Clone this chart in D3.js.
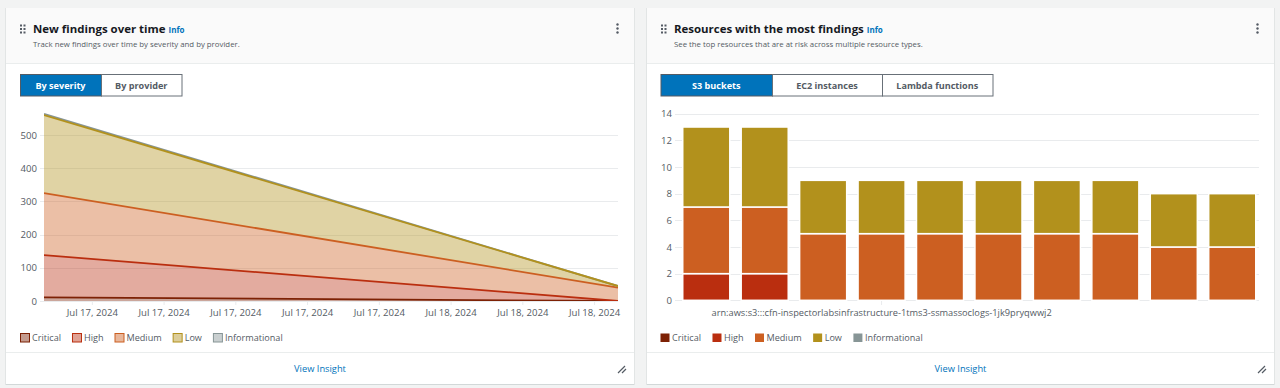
<!DOCTYPE html>
<html>
<head>
<meta charset="utf-8">
<script src="https://cdn.jsdelivr.net/npm/d3@7"></script>
<style>
  html, body { margin: 0; padding: 0; background: #f2f3f3; overflow: hidden; }
  svg { display: block; font-family: "Open Sans", sans-serif; }
  .domain { display: none; }
</style>
</head>
<body>
<svg id="page" width="1280" height="388"></svg>
<script>
'use strict';

// left chart
const severities = ['Critical', 'High', 'Medium', 'Low', 'Informational'];
const severityColors = ['#7d2105', '#ba2e0f', '#cc5f21', '#b2911c', '#879596'];
const findingDates = ['2024-07-17T07:00Z', '2024-07-18T07:00Z'];
const criticalFindings = [11, 0];
const highFindings = [127, 0];
const mediumFindings = [187, 40];
const lowFindings = [235, 5];
const informationalFindings = [4, 0];
const findingTicks = [0, 100, 200, 300, 400, 500];

// right chart
const resources = ['r1', 'r2', 'r3', 'r4', 'r5', 'r6', 'r7', 'r8', 'r9', 'r10'];
const labelledResource = 'r4';
const labelledResourceName = 'arn:aws:s3:::cfn-inspectorlabsinfrastructure-1tms3-ssmassoclogs-1jk9pryqwwj2';
const resCritical = [0, 0, 0, 0, 0, 0, 0, 0, 0, 0];
const resHigh = [2, 2, 0, 0, 0, 0, 0, 0, 0, 0];
const resMedium = [5, 5, 5, 5, 5, 5, 5, 5, 4, 4];
const resLow = [6, 6, 4, 4, 4, 4, 4, 4, 4, 4];
const resInformational = [0, 0, 0, 0, 0, 0, 0, 0, 0, 0];
const resourceTicks = [0, 2, 4, 6, 8, 10, 12, 14];

const svg = d3.select('#page');
const GRID = '#e9ebed';
const TICK_TEXT = '#545b64';

function addText(g, x, y, str, size, color, weight, anchor) {
    return g.append('text')
        .attr('x', x)
        .attr('y', y)
        .attr('font-size', size)
        .attr('fill', color)
        .attr('font-weight', weight || 400)
        .attr('text-anchor', anchor || 'start')
        .text(str);
}

function drawCard(opts) {
    const g = svg.append('g');
    const x = opts.x, w = opts.w;

    g.append('rect').attr('x', x - 0.5).attr('y', 8).attr('width', w + 1).attr('height', 377).attr('fill', '#aab7b8').attr('opacity', 0.45);
    g.append('rect').attr('x', x).attr('y', 8).attr('width', w).attr('height', 376).attr('fill', '#fff');
    g.append('rect').attr('x', x).attr('y', 8).attr('width', w).attr('height', 55).attr('fill', '#fafafa');
    g.append('line').attr('x1', x).attr('x2', x + w).attr('y1', 63.5).attr('y2', 63.5).attr('stroke', '#eaeded');
    g.append('line').attr('x1', x).attr('x2', x + w).attr('y1', 352.5).attr('y2', 352.5).attr('stroke', '#eaeded');

    // drag handle
    [0, 1].forEach(c => [0, 1, 2].forEach(r => {
        g.append('rect').attr('x', x + 14 + c * 3.5).attr('y', 24.5 + r * 3.5).attr('width', 2).attr('height', 2).attr('fill', '#545b64');
    }));

    const title = addText(g, x + 27, 33, opts.title, 11.45, '#16191f', 700);
    const tw = title.node().getComputedTextLength();
    addText(g, x + 27 + tw + 3, 33, 'Info', 8, '#0073bb', 700);
    addText(g, x + 27, 46.5, opts.subtitle, 7.8, '#545b64');

    // kebab menu
    [0, 1, 2].forEach(r => {
        g.append('circle').attr('cx', x + w - 16.5).attr('cy', 24.5 + r * 4).attr('r', 1.2).attr('fill', '#545b64');
    });

    // segmented control
    opts.buttons.forEach((b, i) => {
        const active = i === 0;
        g.append('rect')
            .attr('x', b[0] + 0.5).attr('y', 74.5)
            .attr('width', b[1] - b[0]).attr('height', 21.5)
            .attr('fill', active ? '#0073bb' : '#fff')
            .attr('stroke', active ? '#545b64' : '#687078');
        addText(g, (b[0] + b[1]) / 2, 88.5, b[2], 9.1, active ? '#fff' : '#545b64', 700, 'middle');
    });

    // footer
    addText(g, x + w / 2, 372, 'View Insight', 9.3, '#0073bb', 400, 'middle');
    g.append('path')
        .attr('d', `M${x + w - 16},${373} l7,-7 M${x + w - 12},${373} l4,-4`)
        .attr('stroke', '#545b64').attr('stroke-width', 1.2).attr('fill', 'none');
}

function drawLegend(x0, solid) {
    const g = svg.append('g');
    let x = x0;
    severities.forEach((s, i) => {
        g.append('rect')
            .attr('x', x + 0.5).attr('y', 333.5)
            .attr('width', 9).attr('height', 8.5)
            .attr('fill', severityColors[i])
            .attr('fill-opacity', solid ? 1 : 0.45)
            .attr('stroke', severityColors[i])
            .attr('stroke-width', solid ? 0 : 1);
        const t = addText(g, x + 12, 341, s, 9.1, TICK_TEXT);
        x += 12 + t.node().getComputedTextLength() + 11;
    });
}

function styleAxisText(sel, size) {
    sel.selectAll('text').attr('font-size', size).attr('fill', TICK_TEXT).attr('font-family', '"Open Sans", sans-serif');
}

function drawAreaChart() {
    const x = d3.scaleUtc()
        .domain(d3.extent(findingDates, d => new Date(d)))
        .range([44, 618]);
    const y = d3.scaleLinear().domain([0, 500]).range([301, 135]);

    const rows = findingDates.map((d, i) => ({
        date: new Date(d),
        Critical: criticalFindings[i],
        High: highFindings[i],
        Medium: mediumFindings[i],
        Low: lowFindings[i],
        Informational: informationalFindings[i]
    }));
    const layers = d3.stack().keys(severities)(rows);

    const g = svg.append('g');

    svg.append('clipPath')
        .attr('id', 'plot-clip')
        .append('rect')
        .attr('x', x.range()[0])
        .attr('y', y.range()[1] - 40)
        .attr('width', x.range()[1] - x.range()[0])
        .attr('height', y.range()[0] - y.range()[1] + 40);

    const yAxis = g.append('g')
        .attr('transform', 'translate(44,0)')
        .call(d3.axisLeft(y).tickValues(findingTicks).tickSize(0).tickPadding(7));
    styleAxisText(yAxis, 9.6);

    g.append('g').selectAll('line')
        .data(findingTicks)
        .enter()
        .append('line')
        .attr('x1', 40)
        .attr('x2', 618)
        .attr('y1', d => Math.round(y(d)) + 0.5)
        .attr('y2', d => Math.round(y(d)) + 0.5)
        .attr('stroke', GRID);

    const area = d3.area()
        .x(d => x(d.data.date))
        .y0(d => y(d[0]))
        .y1(d => y(d[1]));
    const line = d3.line()
        .x(d => x(d.data.date))
        .y(d => y(d[1]));

    g.append('g').selectAll('path')
        .data(layers)
        .enter()
        .append('path')
        .attr('d', area)
        .attr('fill', (d, i) => severityColors[i])
        .attr('fill-opacity', 0.4);

    // low goes last so that it sits over informational
    const lineOrder = [0, 1, 2, 4, 3];
    g.append('g')
        .attr('clip-path', 'url(#plot-clip)')
        .selectAll('path')
        .data(lineOrder.map(i => layers[i]))
        .enter()
        .append('path')
        .attr('d', line)
        .attr('fill', 'none')
        .attr('stroke', d => severityColors[d.index])
        .attr('stroke-width', 1.8);

    const xAxis = g.append('g')
        .attr('transform', 'translate(0,301)')
        .call(d3.axisBottom(x)
            .ticks(d3.utcHour.every(3))
            .tickFormat(d3.utcFormat('%b %d, %Y'))
            .tickSize(4)
            .tickPadding(4));
    xAxis.selectAll('.tick line').attr('stroke', GRID);
    styleAxisText(xAxis, 9.6);
}

function drawBarChart() {
    const x = d3.scaleBand().domain(resources).range([676.9, 1261.6]).paddingInner(0.195).paddingOuter(0.1);
    const y = d3.scaleLinear().domain([0, 14]).range([300.3, 113.7]);

    const rows = resources.map((r, i) => ({
        resource: r,
        Critical: resCritical[i],
        High: resHigh[i],
        Medium: resMedium[i],
        Low: resLow[i],
        Informational: resInformational[i]
    }));
    const layers = d3.stack().keys(severities)(rows);

    const g = svg.append('g');

    const yAxis = g.append('g')
        .attr('transform', 'translate(675,0)')
        .call(d3.axisLeft(y).tickValues(resourceTicks).tickSize(0).tickPadding(3));
    styleAxisText(yAxis, 9.6);

    g.append('g').selectAll('line')
        .data(resourceTicks)
        .enter()
        .append('line')
        .attr('x1', 675)
        .attr('x2', 1259)
        .attr('y1', d => Math.round(y(d)) + 0.5)
        .attr('y2', d => Math.round(y(d)) + 0.5)
        .attr('stroke', GRID);

    const layer = g.append('g').selectAll('g')
        .data(layers)
        .enter()
        .append('g')
        .attr('fill', (d, i) => severityColors[i]);

    layer.selectAll('rect')
        .data(d => d.filter(p => p[1] > p[0]))
        .enter()
        .append('rect')
        .attr('x', d => x(d.data.resource))
        .attr('width', x.bandwidth())
        .attr('y', d => y(d[1]))
        .attr('height', d => y(d[0]) - y(d[1]))
        .attr('stroke', '#fff')
        .attr('stroke-width', 1.5);

    const xAxis = g.append('g')
        .attr('transform', 'translate(0,301)')
        .call(d3.axisBottom(x)
            .tickValues([labelledResource])
            .tickFormat(() => labelledResourceName)
            .tickSize(4)
            .tickPadding(4));
    xAxis.selectAll('.tick line').attr('stroke', GRID);
    styleAxisText(xAxis, 9.24);
}

drawCard({
    x: 6, w: 628,
    title: 'New findings over time',
    subtitle: 'Track new findings over time by severity and by provider.',
    buttons: [[20, 101, 'By severity'], [101, 181.5, 'By provider']]
});
drawCard({
    x: 647, w: 627,
    title: 'Resources with the most findings',
    subtitle: 'See the top resources that are at risk across multiple resource types.',
    buttons: [[660.5, 772, 'S3 buckets'], [772, 882, 'EC2 instances'], [882, 992.5, 'Lambda functions']]
});
drawAreaChart();
drawBarChart();
drawLegend(20, false);
drawLegend(660, true);
</script>
</body>
</html>
